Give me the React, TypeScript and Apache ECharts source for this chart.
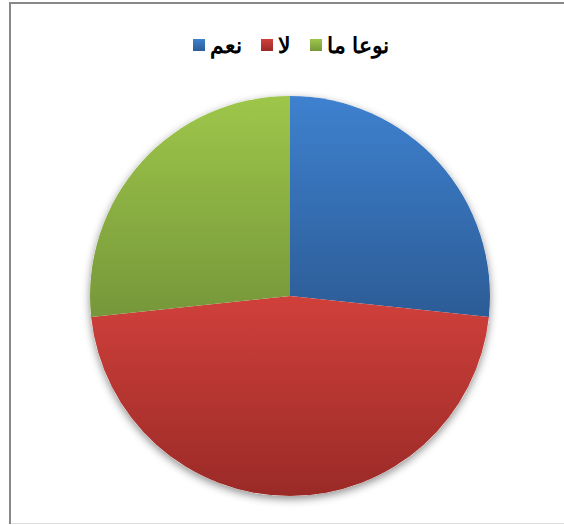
import React, { useEffect, useRef } from "react";
import * as echarts from "echarts";

const categories = ["نعم", "لا", "نوعا ما"];
const values = [8, 14, 8];
const topColors = ["#3e81cf", "#d0403b", "#9ec64a"];
const bottomColors = ["#2c5c96", "#9a2a27", "#76973a"];

export default function App() {
  const ref = useRef<HTMLDivElement>(null);
  useEffect(() => {
    if (!ref.current) return;
    const chart = echarts.init(ref.current, null, { renderer: "svg" });
    const data = categories.map((name, i) => ({
      name,
      value: values[i],
      itemStyle: {
        color: new echarts.graphic.LinearGradient(0, 0, 0, 1, [
          { offset: 0, color: topColors[i] },
          { offset: 1, color: bottomColors[i] },
        ]),
      },
    }));
    chart.setOption({
      animation: false,
      backgroundColor: "#ffffff",
      legend: {
        data: categories,
        left: 188,
        top: 29,
        itemWidth: 12,
        itemHeight: 12,
        itemGap: 19,
        icon: "rect",
        selectedMode: false,
        textStyle: {
          fontFamily: "Liberation Sans, Arial, sans-serif",
          fontWeight: "bold",
          fontSize: 22,
          color: "#000",
        },
      },
      graphic: [
        { type: "rect", shape: { x: 9, y: 2, width: 2, height: 522 }, style: { fill: "#888" } },
        { type: "rect", shape: { x: 9, y: 2, width: 555, height: 2 }, style: { fill: "#888" } },
        { type: "rect", shape: { x: 11, y: 523, width: 553, height: 1 }, style: { fill: "#ddd" } },
      ],
      series: [
        {
          type: "pie",
          silent: true,
          center: [290, 296],
          radius: 200,
          label: { show: false },
          labelLine: { show: false },
          data: [{ value: 1, name: "bg" }],
          itemStyle: {
            color: "#ffffff",
            shadowBlur: 8,
            shadowColor: "rgba(0,0,0,0.45)",
            shadowOffsetY: 3,
          },
          z: 1,
        },
        {
          type: "pie",
          center: [290, 296],
          radius: 200,
          startAngle: 90,
          clockwise: true,
          label: { show: false },
          labelLine: { show: false },
          emphasis: { disabled: true },
          itemStyle: { borderWidth: 0 },
          data,
          z: 2,
        },
      ],
    });
    return () => chart.dispose();
  }, []);
  return (
    <div
      ref={ref}
      style={{ position: "absolute", left: 0, top: 0, width: 564, height: 525 }}
    />
  );
}
